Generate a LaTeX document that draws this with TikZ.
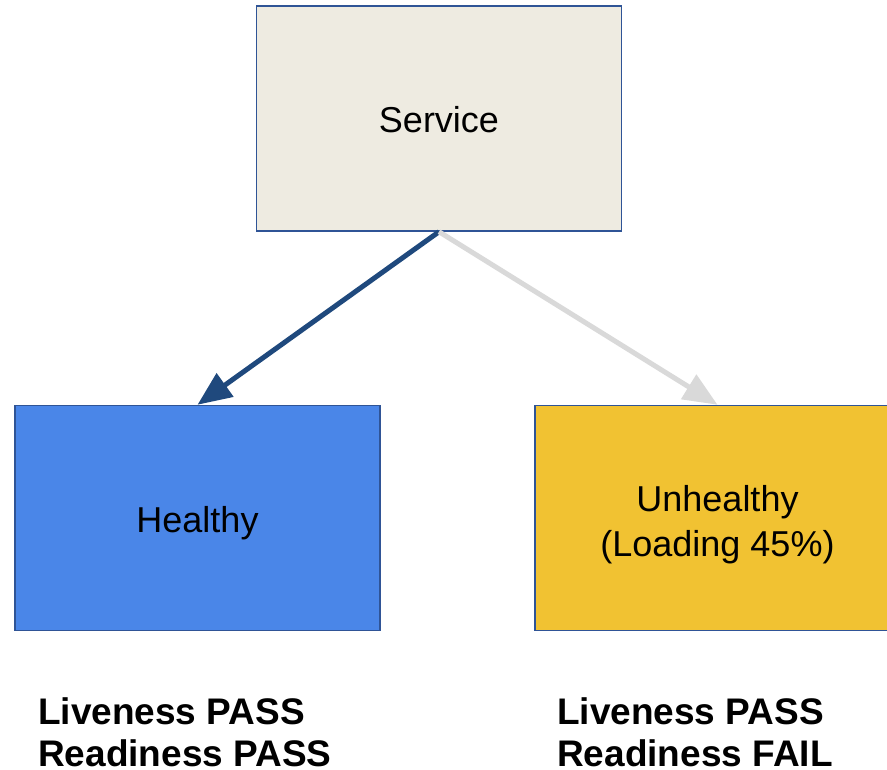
\documentclass[tikz,border=0pt]{standalone}
\usepackage{fontspec}
\setmainfont{Liberation Sans}
\usetikzlibrary{arrows.meta,calc}
\definecolor{edgeblue}{HTML}{2F5496}
\definecolor{svcfill}{HTML}{EEEBE1}
\definecolor{okfill}{HTML}{4A86E8}
\definecolor{badfill}{HTML}{F1C232}
\definecolor{linkblue}{HTML}{1F497D}
\definecolor{linkgrey}{HTML}{D9D9D9}
\tikzset{
  box/.style={draw=edgeblue, line width=1.5pt, minimum width=365pt, minimum height=225pt,
    inner sep=0pt},
  boxtext/.style={inner sep=0pt, align=center, font=\fontsize{36}{45}\selectfont},
  probe/.style={anchor=west, align=left, inner sep=0pt, font=\fontsize{37}{42}\selectfont\bfseries},
  link/.style={line width=5pt, -{Triangle[length=34pt,width=28pt]}},
}
\begin{document}
\begin{tikzpicture}[x=1pt,y=-1pt]
  \clip (0,0) rectangle (887,770);
  \fill[white] (0,0) rectangle (887,770);
  % the three state boxes
  \node[box, fill=svcfill] (service) at (439,118.5) {};
  \node[box, fill=okfill] (healthy) at (197.5,518) {};
  \node[box, fill=badfill] (unhealthy) at (717.5,518) {};
  % box captions
  \node[boxtext, anchor=base] (servicetext) at ($(service.center)+(0,14.5)$) {Service};
  \node[boxtext, anchor=base] (healthytext) at ($(healthy.center)+(0,14)$) {Healthy};
  \node[boxtext] (unhealthytext) at ($(unhealthy.center)+(0,7)$) {Unhealthy\\(Loading 45\%)};
  % routing arrows
  \draw[link, draw=linkblue, fill=linkblue] (service.south) -- (healthy.north);
  \draw[link, draw=linkgrey, fill=linkgrey] (service.south) -- (unhealthy.north);
  % probe results
  \node[probe] (okprobe) at (38,732) {Liveness PASS\\Readiness PASS};
  \node[probe] (badprobe) at (557,732) {Liveness PASS\\Readiness FAIL};
\end{tikzpicture}
\end{document}
